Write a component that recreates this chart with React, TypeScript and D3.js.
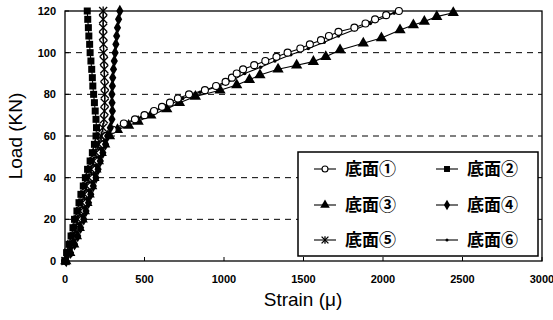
import React from "react";
import * as d3 from "d3";

// Load (kN) and strain (μ) readings per series
const load1 = [0,4,8,12,16,20,24,28,32,36,40,44,48,52,56,60,63,66,68,70,72,74,76,78,80,82,84,86,88,90,92,94,96,98,100,102,104,106,108,110,112,114,116,118,120];
const strain1 = [0,18,38,55,68,85,100,118,130,148,160,175,192,205,228,255,300,370,440,500,560,610,660,710,780,880,950,1010,1050,1080,1120,1190,1260,1330,1400,1480,1540,1610,1660,1720,1820,1890,1950,2020,2100];

const load2 = [0,4,8,12,16,20,24,28,32,36,40,44,48,52,56,60,64,68,72,76,80,84,88,92,96,100,104,108,112,116,120];
const strain2 = [0,10,25,38,50,60,75,88,100,115,128,142,158,172,185,195,198,195,190,185,180,175,172,168,163,158,155,150,147,143,140];

const load3 = [0,4,8,12,16,20,24,28,32,36,40,44,48,52,56,60,63,65,67,70,73,76,79,82,84.5,87,89.3,92,94,95.7,98,101.3,104.5,107,110.9,113.3,115,117.3,119.2];
const strain3 = [5,30,55,72,90,108,122,138,152,168,182,195,210,228,250,280,330,400,460,540,640,720,820,975,1080,1160,1226,1340,1457,1562,1640,1730,1876,1990,2107,2191,2260,2338,2442];

const load4 = [0,4,8,12,16,20,24,28,32,36,40,44,48,52,56,60,64,68,72,76,80,84,88,92,96,100,104,108,112,116,120];
const strain4 = [8,35,60,80,98,118,132,148,162,178,195,208,222,238,255,268,285,295,298,296,295,298,300,305,310,315,320,325,330,337,345];

const load5 = [0,4,8,12,16,20,24,28,32,36,40,44,48,52,56,60,64,68,72,76,80,84,88,92,96,100,104,108,112,116,120];
const strain5 = [3,20,40,55,70,80,95,108,122,135,150,165,180,195,212,228,238,245,248,250,250,250,248,247,245,243,242,240,240,240,240];

const load6 = [0,4,8,12,16,20,24,28,32,36,40,44,48,52,56,60,63,66,69,72,75,78,81,84,87,90,93,96,99,102,105,108,111,114,117,119];
const strain6 = [2,22,45,62,78,95,110,125,140,155,170,185,198,212,235,265,320,390,480,570,660,740,850,970,1060,1130,1230,1320,1420,1530,1630,1720,1820,1920,2010,2070];

const seriesNames = ["底面①","底面②","底面③","底面④","底面⑤","底面⑥"];
const xTicks = [0,500,1000,1500,2000,2500,3000];
const yTicks = [0,20,40,60,80,100,120];

type Pt = [number, number];
const zip = (s: number[], l: number[]): Pt[] => s.map((v, i) => [v, l[i]]);

const W = 553, H = 320;
const x = d3.scaleLinear().domain([0, 3000]).range([65, 542]);
const y = d3.scaleLinear().domain([0, 120]).range([261, 11]);

function Marker({ kind, cx, cy, s = 1 }: { kind: number; cx: number; cy: number; s?: number }) {
  switch (kind) {
    case 0:
      return <circle cx={cx} cy={cy} r={3.5 * s} fill="#fff" stroke="#000" strokeWidth={1.1} />;
    case 1:
      return <rect x={cx - 3.5 * s} y={cy - 3.5 * s} width={7 * s} height={7 * s} fill="#000" />;
    case 2:
      return <path d={d3.symbol(d3.symbolTriangle, 55 * s * s)()!} transform={`translate(${cx},${cy})`} fill="#000" />;
    case 3:
      return <path d={d3.symbol(d3.symbolDiamond, 45 * s * s)()!} transform={`translate(${cx},${cy})`} fill="#000" />;
    case 4:
      return (
        <g stroke="#000" strokeWidth={1.3}>
          <line x1={cx - 4 * s} y1={cy - 4 * s} x2={cx + 4 * s} y2={cy + 4 * s} />
          <line x1={cx - 4 * s} y1={cy + 4 * s} x2={cx + 4 * s} y2={cy - 4 * s} />
          <line x1={cx} y1={cy - 4.5 * s} x2={cx} y2={cy + 4.5 * s} />
        </g>
      );
    default:
      return <circle cx={cx} cy={cy} r={1.8 * s} fill="#000" />;
  }
}

export default function App() {
  const data: Pt[][] = [
    zip(strain1, load1),
    zip(strain2, load2),
    zip(strain3, load3),
    zip(strain4, load4),
    zip(strain5, load5),
    zip(strain6, load6),
  ];
  const line = d3.line<Pt>().x(d => x(d[0])).y(d => y(d[1]));
  const order = [2, 5, 0, 1, 3, 4];
  const font = "'Liberation Sans', Arial, sans-serif";
  const cjk = "'Noto Sans CJK JP', 'Noto Sans CJK SC', sans-serif";

  const legX = 298, legY = 152, legW = 240, legH = 104;
  const rowsY = [169, 205, 240];
  const colX = [314, 436];

  return (
    <svg width={W} height={H} style={{ position: "absolute", left: 0, top: 0, background: "#fff" }}>
      <rect x={0} y={0} width={W} height={H} fill="#fff" />
      {yTicks.filter(t => t > 0 && t < 120).map(t => (
        <line key={t} x1={x(0)} x2={x(3000)} y1={y(t)} y2={y(t)} stroke="#000" strokeWidth={1} strokeDasharray="6,5" />
      ))}
      <rect x={x(0)} y={y(120)} width={x(3000) - x(0)} height={y(0) - y(120)} fill="none" stroke="#000" strokeWidth={1.3} />
      {xTicks.map(t => (
        <g key={t}>
          <line x1={x(t)} x2={x(t)} y1={y(0)} y2={y(0) - 4} stroke="#000" />
          <text x={x(t)} y={283} textAnchor="middle" fontFamily={font} fontWeight="bold" fontSize={11}>{t}</text>
        </g>
      ))}
      {yTicks.map(t => (
        <g key={t}>
          <line x1={x(0)} x2={x(0) + 4} y1={y(t)} y2={y(t)} stroke="#000" />
          <text x={56} y={y(t) + 4} textAnchor="end" fontFamily={font} fontWeight="bold" fontSize={11}>{t}</text>
        </g>
      ))}
      {order.map(i => (
        <g key={i}>
          <path d={line(data[i])!} fill="none" stroke="#000" strokeWidth={1.1} />
          {data[i].map((p, j) => <Marker key={j} kind={i} cx={x(p[0])} cy={y(p[1])} />)}
        </g>
      ))}
      <text x={303} y={306} textAnchor="middle" fontFamily={font} fontSize={19}>Strain (μ)</text>
      <text transform={`translate(22,${y(60)}) rotate(-90)`} textAnchor="middle" fontFamily={font} fontSize={19}>Load (KN)</text>
      <rect x={legX} y={legY} width={legW} height={legH} fill="#fff" stroke="#000" strokeWidth={1.5} />
      {seriesNames.map((n, i) => {
        const cx = colX[i % 2];
        const cy = rowsY[Math.floor(i / 2)];
        return (
          <g key={n}>
            <line x1={cx} x2={cx + 22} y1={cy} y2={cy} stroke="#000" strokeWidth={1.1} />
            <Marker kind={i} cx={cx + 11} cy={cy} s={0.85} />
            <text x={cx + 31} y={cy + 6} fontFamily={cjk} fontWeight="bold" fontSize={17}>{n}</text>
          </g>
        );
      })}
    </svg>
  );
}
